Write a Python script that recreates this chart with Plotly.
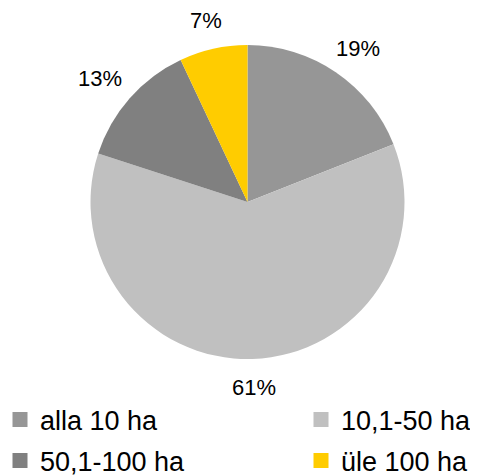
import math
import plotly.graph_objects as go

categories = ["alla 10 ha", "10,1-50 ha", "50,1-100 ha", "üle 100 ha"]
values = [19, 61, 13, 7]
colors = ["#969696", "#c0c0c0", "#808080", "#ffcc00"]

W, H = 478, 476
OFF = 8  # page body margin of the browser
cx, cy, r = 247.5 - OFF, 202 - OFF, 157  # pixel geometry (from top-left of figure)

dom_x = [(cx - r) / W, (cx + r) / W]
dom_y = [(H - cy - r) / H, (H - cy + r) / H]

fig = go.Figure()
fig.add_trace(go.Pie(
    labels=categories, values=values, sort=False, direction="clockwise",
    rotation=0, marker=dict(colors=colors, line=dict(width=0)),
    textinfo="none", showlegend=False, hoverinfo="label+percent",
    domain=dict(x=dom_x, y=dom_y),
))

# percentage labels outside the pie
LABEL_SIZE = 22
total = sum(values)
cum = 0
annotations = []
for v in values:
    mid = (cum + v / 2) / total * 2 * math.pi
    cum += v
    txt = f"{round(v / total * 100)}%"
    w = (0.556 * (len(txt) - 1) + 0.889) * LABEL_SIZE
    h = LABEL_SIZE
    dx, dy = math.sin(mid), -math.cos(mid)
    px = cx + (r + 18) * dx + dx * w / 2
    py = cy + (r + 18) * dy + dy * h / 2
    annotations.append(dict(
        x=px / W, y=1 - py / H, xref="paper", yref="paper",
        text=txt, showarrow=False,
        font=dict(family="Liberation Sans, Arial", size=LABEL_SIZE, color="#000000"),
        xanchor="center", yanchor="middle",
    ))

# legend entries: one legend per entry, laid out in 2 rows x 2 columns
legend_names = ["legend", "legend2", "legend3", "legend4"]
legend_pos = [(42, 422), (343, 422), (42, 463), (343, 463)]  # text start x, row centre y (page)
for name, col, lg in zip(categories, colors, legend_names):
    fig.add_trace(go.Scatter(
        x=[None], y=[None], mode="markers", name=name,
        marker=dict(symbol="square", size=15, color=col),
        legend=lg, showlegend=True,
    ))

legend_layout = {}
for lg, (tx, ty) in zip(legend_names, legend_pos):
    legend_layout[lg] = dict(
        orientation="h", xanchor="left", x=(tx - OFF - 42) / W,
        yanchor="middle", y=1 - (ty - OFF - 2) / H,
        font=dict(family="Liberation Sans, Arial", size=27, color="#000000"),
        bgcolor="rgba(0,0,0,0)", itemclick=False, itemdoubleclick=False,
    )

fig.update_layout(
    width=W, height=H,
    margin=dict(l=0, r=0, t=0, b=0, autoexpand=False),
    paper_bgcolor="white", plot_bgcolor="white",
    xaxis=dict(visible=False), yaxis=dict(visible=False),
    annotations=annotations,
    **legend_layout,
)

fig.write_html("out.html")
